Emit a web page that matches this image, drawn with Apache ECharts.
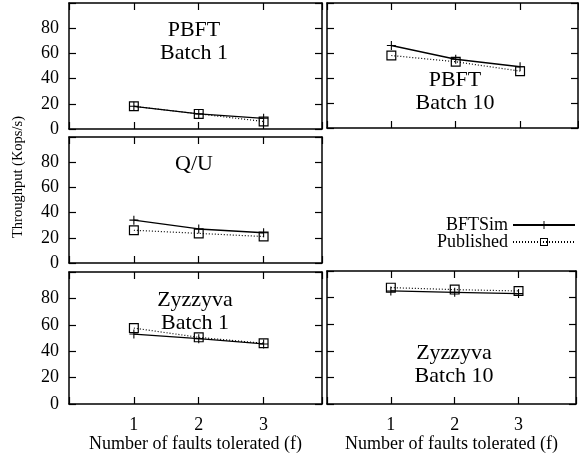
<!DOCTYPE html>
<html>
<head>
<meta charset="utf-8">
<script src="https://cdn.jsdelivr.net/npm/echarts@6/dist/echarts.min.js"></script>
<style>
  html, body { margin: 0; padding: 0; background: #fff; }
  #main { width: 579px; height: 455px; }
</style>
</head>
<body>
<div id="main"></div>
<script>
// x values: number of faults tolerated
const faults = [1, 2, 3];
// throughput in Kops/s
const pbftB1Sim = [18, 12, 8.5];
const pbftB1Pub = [18, 12, 6];
const pbftB10Sim = [66, 55, 49];
const pbftB10Pub = [58, 53, 45.5];
const quSim = [34, 27, 24];
const quPub = [26, 23.5, 21];
const zyzB1Sim = [53, 49.5, 45.5];
const zyzB1Pub = [57.5, 50.5, 46];
const zyzB10Sim = [85, 84, 83];
const zyzB10Pub = [87.5, 86, 85];
const yTicks = [0, 20, 40, 60, 80];
const seriesNames = ["BFTSim", "Published"];
const panelTitles = ["PBFT\nBatch 1", "PBFT\nBatch 10", "Q/U", "Zyzzyva\nBatch 1", "Zyzzyva\nBatch 10"];

const FONT = "Liberation Serif";

const panels = [
  { grid: { left: 69, top: 3, width: 253, height: 126 }, sim: pbftB1Sim, pub: pbftB1Pub, yLab: true, xLab: false, tx: 194, ty: 18.5 },
  { grid: { left: 327, top: 3, width: 251, height: 125 }, sim: pbftB10Sim, pub: pbftB10Pub, yLab: false, xLab: false, tx: 455, ty: 69 },
  { grid: { left: 69, top: 137, width: 253, height: 126 }, sim: quSim, pub: quPub, yLab: true, xLab: false, tx: 194, ty: 152.5 },
  { grid: { left: 69, top: 272, width: 253, height: 132 }, sim: zyzB1Sim, pub: zyzB1Pub, yLab: true, xLab: true, tx: 195, ty: 288.5 },
  { grid: { left: 327, top: 271, width: 251, height: 133 }, sim: zyzB10Sim, pub: zyzB10Pub, yLab: false, xLab: true, tx: 454, ty: 342 },
];

const line = { show: true, onZero: false, lineStyle: { color: "#000", width: 1.5 } };
const tick = { show: true, inside: true, length: 7, lineStyle: { color: "#000", width: 1.2 } };
const plusSym = "path://M4.4,0H5.6V4.4H10V5.6H5.6V10H4.4V5.6H0V4.4H4.4Z";
const boxSym = "path://M0,0H10V10H0ZM1.2,1.2V8.8H8.8V1.2Z";

const grids = [], xAxes = [], yAxes = [], series = [], titles = [];
panels.forEach((p, i) => {
  grids.push(p.grid);
  titles.push({
    text: panelTitles[i], left: p.tx, top: p.ty, textAlign: "center", padding: 0,
    textStyle: { fontFamily: FONT, fontSize: 22, fontWeight: "normal", color: "#000", lineHeight: 23 },
  });
  const xBase = { gridIndex: i, type: "value", min: 0, max: 3.9, interval: 1, axisLine: line, axisTick: tick, splitLine: { show: false } };
  xAxes.push(Object.assign({}, xBase, {
    position: "bottom",
    name: p.xLab ? "Number of faults tolerated (f)" : "",
    nameLocation: "middle", nameGap: 28,
    nameTextStyle: { fontFamily: FONT, fontSize: 18, color: "#000" },
    axisLabel: {
      show: p.xLab, margin: 12, fontFamily: FONT, fontSize: 18, color: "#000",
      formatter: (v) => (faults.indexOf(v) >= 0 ? String(v) : ""),
    },
  }));
  xAxes.push(Object.assign({}, xBase, { position: "top", axisLabel: { show: false } }));
  const yBase = { gridIndex: i, type: "value", min: 0, max: 100, interval: 20, axisLine: line, axisTick: tick, splitLine: { show: false } };
  yAxes.push(Object.assign({}, yBase, {
    position: "left",
    axisLabel: {
      show: p.yLab, margin: 10, fontFamily: FONT, fontSize: 18, color: "#000",
      formatter: (v) => (yTicks.indexOf(v) >= 0 ? String(v) : ""),
    },
  }));
  yAxes.push(Object.assign({}, yBase, { position: "right", axisLabel: { show: false } }));

  series.push({
    name: seriesNames[0], type: "line", xAxisIndex: i * 2, yAxisIndex: i * 2,
    data: faults.map((f, k) => [f, p.sim[k]]),
    symbol: plusSym, symbolSize: 9, itemStyle: { color: "#000" },
    lineStyle: { color: "#000", width: 1.3, type: "solid" },
    animation: false, silent: true,
  });
  series.push({
    name: seriesNames[1], type: "line", xAxisIndex: i * 2, yAxisIndex: i * 2,
    data: faults.map((f, k) => [f, p.pub[k]]),
    symbol: boxSym, symbolSize: 10, itemStyle: { color: "#000" },
    lineStyle: { color: "#000", width: 1.2, type: [1, 2] },
    animation: false, silent: true,
  });
});

const legendBase = {
  orient: "vertical", right: 3, padding: 0, align: "right", itemWidth: 62, itemHeight: 10,
  textStyle: { fontFamily: FONT, fontSize: 18, color: "#000", lineHeight: 16 },
  selectedMode: false,
};

const myChart = echarts.init(document.getElementById("main"), null, { renderer: "canvas" });
myChart.setOption({
  backgroundColor: "#fff",
  animation: false,
  title: titles,
  grid: grids,
  xAxis: xAxes,
  yAxis: yAxes,
  legend: [
    Object.assign({}, legendBase, { top: 216, data: [seriesNames[0]] }),
    Object.assign({}, legendBase, { top: 233, data: [seriesNames[1]] }),
  ],
  graphic: [{
    type: "text", x: 18, y: 177, rotation: Math.PI / 2,
    style: { text: "Throughput (Kops/s)", fontFamily: FONT, fontSize: 14.5, fill: "#000", align: "center", verticalAlign: "middle" },
  }],
  series: series,
});
</script>
</body>
</html>
